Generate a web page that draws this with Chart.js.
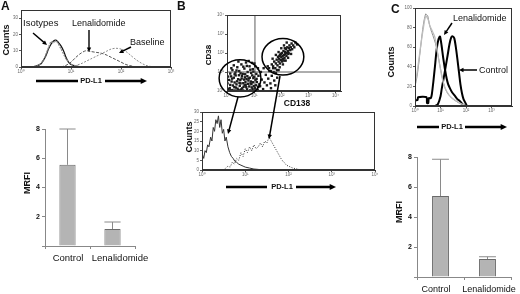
<!DOCTYPE html>
<html>
<head>
<meta charset="utf-8">
<script src="https://cdn.jsdelivr.net/npm/chart.js@4.4.1/dist/chart.umd.min.js"></script>
<style>
  body { margin: 0; background: #fff; }
  #fig { position: relative; width: 520px; height: 294px; overflow: hidden; font-family: "Liberation Sans", Arial, sans-serif; color: #111; }
  #fig canvas { position: absolute; }
  .t { position: absolute; white-space: nowrap; line-height: 1; }
  .b { font-weight: bold; }
  .v { transform: translate(-50%, -50%) rotate(-90deg); }
  .c { transform: translate(-50%, -50%); }
  .l { transform: translateY(-50%); }
</style>
</head>
<body>
<div id="fig">
  <canvas id="aHist" width="180" height="76" style="left:0;top:0"></canvas>
  <canvas id="aBar" width="180" height="150" style="left:0;top:115px"></canvas>
  <canvas id="bDot" width="150" height="105" style="left:200px;top:5px"></canvas>
  <canvas id="bHist" width="200" height="75" style="left:180px;top:105px"></canvas>
  <canvas id="cHist" width="140" height="118" style="left:380px;top:0"></canvas>
  <canvas id="cBar" width="140" height="149" style="left:380px;top:145px"></canvas>
  <canvas id="ov" width="520" height="294" style="left:0;top:0"></canvas>

  <div class="t b" style="left:1px;top:0;font-size:12px">A</div>
  <div class="t b v" style="left:5.5px;top:40px;font-size:9px">Counts</div>
  <div class="t l" style="left:23px;top:23px;font-size:9.5px">Isotypes</div>
  <div class="t l" style="left:72px;top:23px;font-size:9px">Lenalidomide</div>
  <div class="t l" style="left:130px;top:42px;font-size:9px">Baseline</div>
  <div class="t b c" style="left:91px;top:81px;font-size:7.5px">PD-L1</div>
  <div class="t b v" style="left:27px;top:183px;font-size:9px">MRFI</div>
  <div class="t c" style="left:68px;top:258px;font-size:9.5px">Control</div>
  <div class="t c" style="left:120px;top:258px;font-size:9.5px">Lenalidomide</div>

  <div class="t b" style="left:177px;top:0;font-size:12px">B</div>
  <div class="t b v" style="left:208.5px;top:55px;font-size:8px">CD38</div>
  <div class="t b c" style="left:297px;top:103px;font-size:8.5px">CD138</div>
  <div class="t b v" style="left:188.5px;top:137px;font-size:9px">Counts</div>
  <div class="t b c" style="left:282px;top:187px;font-size:7.5px">PD-L1</div>

  <div class="t b" style="left:391px;top:3px;font-size:12px">C</div>
  <div class="t b v" style="left:391px;top:62px;font-size:9px">Counts</div>
  <div class="t l" style="left:453px;top:18px;font-size:9px">Lenalidomide</div>
  <div class="t l" style="left:479px;top:70px;font-size:9px">Control</div>
  <div class="t b c" style="left:452px;top:127px;font-size:7.5px">PD-L1</div>
  <div class="t b v" style="left:399px;top:212px;font-size:9px">MRFI</div>
  <div class="t c" style="left:436px;top:289px;font-size:9px">Control</div>
  <div class="t c" style="left:489px;top:289px;font-size:9px">Lenalidomide</div>
</div>
<script>
// x values are decades of fluorescence (10^0 .. 10^4), y are counts

// panel A histogram
const aIsoBlack = [[0.2,0],[0.3,0.5],[0.4,2],[0.5,7],[0.55,11],[0.6,14],[0.65,16],[0.7,16.5],[0.75,15],[0.8,13],[0.85,10],[0.9,6],[0.95,3],[1.0,1.5],[1.1,0.5],[1.2,0]];
const aIsoGray = [[0.25,0],[0.35,1],[0.45,4],[0.5,8],[0.55,12],[0.6,15.5],[0.65,15],[0.7,16],[0.75,14],[0.8,11],[0.85,8],[0.9,5],[1.0,2],[1.1,0.7],[1.25,0]];
const aLena = [[0.8,0],[0.9,1],[1.0,3],[1.1,6],[1.2,8.5],[1.3,10],[1.4,9.5],[1.5,9],[1.6,8.5],[1.7,7.5],[1.8,6],[1.9,4.5],[2.0,3],[2.1,1.5],[2.2,0.7],[2.3,0]];
const aBase = [[1.0,0],[1.1,1],[1.2,2],[1.3,3.5],[1.4,5],[1.5,6.5],[1.6,8],[1.7,9.5],[1.8,11],[1.9,11.5],[2.0,11],[2.1,9.5],[2.2,7],[2.3,4.5],[2.4,2.5],[2.5,1],[2.6,0.3],[2.7,0]];

// panel B histogram: CD138- gate (solid) and CD138+ gate (dotted)
const bNeg = [[0,0],[0.01,8],[0.04,6],[0.07,10],[0.1,9],[0.13,13],[0.16,12],[0.2,17],[0.23,15],[0.26,22],[0.29,20],[0.32,26],[0.35,24],[0.38,28],[0.41,22],[0.44,26],[0.47,19],[0.5,21],[0.53,15],[0.56,17],[0.6,12],[0.64,9],[0.68,7],[0.72,6],[0.76,4.5],[0.8,4],[0.85,3],[0.9,2.5],[0.95,2],[1.0,1.5],[1.1,1],[1.2,0.5],[1.3,0.3],[1.4,0]];
const bPos = [[0.5,0],[0.55,1],[0.6,2],[0.65,1.5],[0.7,4],[0.75,3],[0.8,6],[0.85,5],[0.9,9],[0.95,7],[1.0,11],[1.05,9],[1.1,12],[1.15,10],[1.2,13],[1.25,11],[1.3,12],[1.35,14],[1.4,12],[1.45,15],[1.5,14],[1.55,17],[1.6,15],[1.65,13],[1.7,11],[1.75,9],[1.8,7],[1.85,5],[1.9,4],[1.95,2.5],[2.0,2],[2.05,1.5],[2.1,1],[2.2,0.5],[2.3,0]];

// panel B dot plot (CD138, CD38)
const bCells = [
  [0.05,0.1],[0.12,0.32],[0.2,0.05],[0.28,0.45],[0.33,0.18],[0.41,0.62],[0.47,0.27],[0.52,0.08],[0.6,0.41],[0.66,0.72],
  [0.71,0.2],[0.79,0.55],[0.85,0.03],[0.9,0.36],[0.97,0.68],[1.03,0.15],[1.1,0.47],[1.16,0.8],[0.08,0.58],[0.15,0.77],
  [0.22,0.29],[0.3,0.02],[0.37,0.51],[0.44,0.83],[0.5,0.4],[0.56,0.14],[0.63,0.6],[0.69,0.33],[0.75,0.78],[0.82,0.24],
  [0.88,0.5],[0.94,0.11],[1.0,0.74],[1.07,0.3],[1.13,0.06],[0.02,0.4],[0.1,0.15],[0.17,0.5],[0.25,0.7],[0.35,0.35],
  [0.43,0.05],[0.49,0.58],[0.55,0.79],[0.61,0.22],[0.68,0.47],[0.74,0.09],[0.8,0.66],[0.87,0.4],[0.93,0.82],[0.99,0.26],
  [1.05,0.58],[1.19,0.35],[0.04,0.76],[0.13,0.04],[0.19,0.65],[0.27,0.2],[0.32,0.82],[0.39,0.12],[0.46,0.43],[0.54,0.66],
  [0.59,0.02],[0.65,0.3],[0.72,0.62],[0.78,0.38],[0.84,0.7],[0.91,0.19],[0.96,0.46],[1.02,0.02],[1.09,0.64],[1.15,0.22],
  [0.07,0],[0.18,0],[0.29,0],[0.4,0],[0.51,0],[0.62,0],[0.73,0],[0.86,0],[0.98,0],[1.12,0],
  [0.12,0.92],[0.2,1.1],[0.31,0.97],[0.38,1.25],[0.45,1.05],[0.53,1.4],[0.58,0.9],[0.64,1.18],[0.7,1.5],[0.76,1.0],
  [0.83,1.3],[0.89,0.95],[0.95,1.15],[1.01,1.45],[1.08,0.9],[1.14,1.2],[0.25,1.35],[0.42,1.55],[0.6,1.28],[0.8,1.58],
  [0.97,1.02],[0.16,1.2],[0.35,1.08],[0.5,0.93],[0.67,0.88],[0.86,1.12],[1.04,1.3],[0.28,0.88],[0.73,1.32],[0.92,1.48],
  [1.22,0.25],[1.28,0.6],[1.33,0.1],[1.38,0.45],[1.43,0.85],[1.47,0.3],[1.52,0.65],[1.56,1.05],[1.6,0.4],[1.65,0.8],
  [1.7,1.2],[1.74,0.55],[1.8,0.95],[1.85,0.7],[1.25,1.0],[1.35,1.2],[1.5,1.3],[1.62,0.15],[1.9,1.1],[1.78,0.3],
  [1.55,1.2],[1.62,1.05],[1.65,1.4],[1.7,1.3],[1.74,1.55],[1.78,1.2],[1.8,1.45],[1.83,1.65],[1.86,1.35],[1.88,1.8],
  [1.9,1.55],[1.92,1.7],[1.95,1.45],[1.96,1.9],[1.98,1.62],[2.0,1.78],[2.02,2.0],[2.03,1.55],[2.05,1.85],[2.07,1.7],
  [2.08,2.1],[2.1,1.9],[2.12,1.75],[2.14,2.05],[2.15,1.95],[2.17,2.2],[2.19,1.85],[2.2,2.0],[2.22,2.3],[2.24,2.1],
  [2.26,1.95],[2.28,2.25],[2.3,2.4],[2.33,2.15],[2.35,2.3],[2.38,2.5],[2.4,2.2],[2.44,2.4],[2.48,2.3],[2.52,2.55],
  [2.58,2.45],[1.72,1.0],[1.84,1.1],[1.94,1.25],[2.06,1.4],[2.16,1.6],[2.25,1.75],[2.36,1.95],[1.68,1.7],[1.8,1.9],
  [1.9,2.05],[2.0,2.25],[2.1,2.4],[2.2,2.55],[1.98,1.95],[2.11,1.6],[2.04,1.65],[1.93,1.85],[2.13,2.25],[2.27,2.0]
];
// gates: [centre x, centre y, radius x, radius y] in decades
const bGates = [[0.48,0.67,0.77,0.98],[2.06,1.8,0.77,0.96]];
const bQuadrant = [1.03, 1.0];

// panel C histogram
const cIsoLight = [[0,22],[0.07,32],[0.14,45],[0.2,57],[0.27,70],[0.33,80],[0.38,88],[0.43,92],[0.48,90],[0.52,88],[0.58,82],[0.65,78],[0.72,74],[0.78,70],[0.85,60],[0.91,50],[0.98,40],[1.05,30],[1.14,21],[1.24,15],[1.37,10],[1.5,7],[1.63,5],[1.76,3],[1.9,1.5],[2.03,0]];
const cIsoDark = [[0,20],[0.08,30],[0.15,44],[0.22,60],[0.3,78],[0.36,88],[0.42,94],[0.46,93],[0.5,92],[0.55,85],[0.62,78],[0.7,72],[0.8,64],[0.9,52],[1.0,38],[1.08,28],[1.18,18],[1.3,12],[1.45,8],[1.6,5],[1.8,2],[2.0,0]];
const cLena = [[0,6],[0.1,6],[0.12,9],[0.45,9],[0.47,3],[0.52,3],[0.54,8],[0.62,8],[0.66,12],[0.72,25],[0.78,40],[0.85,58],[0.92,68],[0.98,71],[1.04,62],[1.1,50],[1.17,38],[1.24,28],[1.3,22],[1.37,18],[1.45,14],[1.57,10],[1.66,7],[1.76,5],[1.85,2],[1.92,0.5],[2.0,0]];
const cCtrl = [[0.8,0],[0.9,2],[1.0,10],[1.05,18],[1.12,28],[1.2,40],[1.28,52],[1.35,63],[1.42,70],[1.48,71],[1.54,69],[1.6,60],[1.66,48],[1.72,35],[1.78,22],[1.84,13],[1.9,7],[1.96,4],[2.03,0]];

// MRFI bar charts
const barLabels = ['Control', 'Lenalidomide'];
const aMrfi = [5.55, 1.16];
const aMrfiTop = [8.0, 1.64];
const cMrfi = [5.4, 1.2];
const cMrfiTop = [7.85, 1.35];

const decadeTicks = ['10\u2070', '10\u00b9', '10\u00b2', '10\u00b3', '10\u2074'];
const FAM = '"Liberation Sans", Arial, sans-serif';
const tiny = { size: 4.5, family: FAM };

const pts = arr => arr.map(p => ({ x: p[0], y: p[1] }));

const framePlugin = {
  id: 'frame',
  afterDraw(chart) {
    const a = chart.chartArea, ctx = chart.ctx;
    ctx.save();
    ctx.strokeStyle = '#333';
    ctx.lineWidth = 1;
    ctx.strokeRect(Math.round(a.left) + 0.5, Math.round(a.top) + 0.5,
      Math.round(a.right - a.left) - 1, Math.round(a.bottom - a.top) - 1);
    ctx.restore();
  }
};

const gatePlugin = {
  id: 'gates',
  afterDraw(chart) {
    const ctx = chart.ctx, x = chart.scales.x, y = chart.scales.y, a = chart.chartArea;
    ctx.save();
    ctx.strokeStyle = '#333';
    ctx.lineWidth = 0.8;
    ctx.beginPath();
    const qx = x.getPixelForValue(bQuadrant[0]), qy = y.getPixelForValue(bQuadrant[1]);
    ctx.moveTo(qx, a.top); ctx.lineTo(qx, a.bottom);
    ctx.moveTo(a.left, qy); ctx.lineTo(a.right, qy);
    ctx.stroke();
    ctx.strokeStyle = '#000';
    ctx.lineWidth = 1.5;
    bGates.forEach(g => {
      const cx = x.getPixelForValue(g[0]), cy = y.getPixelForValue(g[1]);
      const rx = x.getPixelForValue(g[0] + g[2]) - cx;
      const ry = cy - y.getPixelForValue(g[1] + g[3]);
      ctx.beginPath();
      ctx.ellipse(cx, cy, rx, ry, 0, 0, Math.PI * 2);
      ctx.stroke();
    });
    ctx.restore();
  }
};

const errorPlugin = {
  id: 'errbars',
  afterDatasetsDraw(chart) {
    const ctx = chart.ctx, y = chart.scales.y;
    chart.data.datasets.forEach((ds, i) => {
      chart.getDatasetMeta(i).data.forEach((bar, j) => {
        const top = y.getPixelForValue(ds.errTop[j]);
        const half = bar.width / 2;
        ctx.save();
        ctx.strokeStyle = '#8a8a8a';
        ctx.lineWidth = 1;
        ctx.beginPath();
        ctx.moveTo(bar.x, bar.y); ctx.lineTo(bar.x, top);
        ctx.moveTo(bar.x - half, top); ctx.lineTo(bar.x + half, top);
        ctx.stroke();
        ctx.restore();
      });
    });
  }
};

function decadeAxis(max, h) {
  return {
    type: 'linear', min: 0, max: max,
    afterFit: s => { s.height = h; },
    afterBuildTicks: s => { s.ticks = [0, 1, 2, 3, 4].filter(v => v <= max).map(v => ({ value: v })); },
    ticks: { callback: v => decadeTicks[v], font: tiny, color: '#666', padding: 0, maxRotation: 0, autoSkip: false },
    grid: { drawOnChartArea: false, tickLength: 2, color: '#555' },
    border: { color: '#333' }
  };
}

function countAxis(max, step, w) {
  return {
    min: 0, max: max,
    afterFit: s => { s.width = w; },
    ticks: { stepSize: step, font: tiny, color: '#666', padding: 1 },
    grid: { drawOnChartArea: false, tickLength: 2, color: '#555' },
    border: { color: '#333' }
  };
}

function line(data, color, width, dash, tension) {
  return { data: pts(data), borderColor: color, borderWidth: width, borderDash: dash || [], pointRadius: 0, tension: tension || 0 };
}

function histChart(id, sets, pad, xMax, xH, yMax, yStep, yW) {
  return new Chart(document.getElementById(id), {
    type: 'line',
    data: { datasets: sets },
    plugins: [framePlugin],
    options: {
      responsive: false, animation: false,
      layout: { padding: pad },
      plugins: { legend: { display: false }, tooltip: { enabled: false } },
      scales: { x: decadeAxis(xMax, xH), y: countAxis(yMax, yStep, yW) }
    }
  });
}

// category names sit a little off-centre in the figure, so they are placed as page text
function barChart(id, vals, tops, pad, xH, yW) {
  return new Chart(document.getElementById(id), {
    type: 'bar',
    data: {
      labels: barLabels,
      datasets: [{ data: vals, errTop: tops, backgroundColor: '#b4b4b4', borderColor: '#6a6a6a', borderWidth: 1,
        barPercentage: 0.36, categoryPercentage: 1 }]
    },
    plugins: [errorPlugin],
    options: {
      responsive: false, animation: false,
      layout: { padding: pad },
      plugins: { legend: { display: false }, tooltip: { enabled: false } },
      scales: {
        x: {
          afterFit: s => { s.height = xH; },
          ticks: { display: false },
          grid: { offset: true, drawOnChartArea: false, tickLength: 3, color: '#888' },
          border: { color: '#888' }
        },
        y: {
          min: 0, max: 8,
          afterFit: s => { s.width = yW; },
          ticks: { stepSize: 2, callback: v => (v === 0 ? '' : v), font: { size: 7, weight: 'bold', family: FAM }, color: '#111', padding: 2 },
          grid: { drawOnChartArea: false, tickLength: 3, color: '#888' },
          border: { color: '#888' }
        }
      }
    }
  });
}

histChart('aHist', [
  line(aBase, '#8c8c8c', 1, [2, 1.5], 0.3),
  line(aLena, '#555', 1, [3, 1.5], 0.3),
  line(aIsoGray, '#888', 1.2, [2, 1], 0.3),
  line(aIsoBlack, '#111', 1.2, [], 0.3)
], { left: 0, top: 10, right: 9, bottom: 0 }, 3, 9, 35, 5, 21);

barChart('aBar', aMrfi, aMrfiTop, { left: 0, top: 14, right: 45, bottom: 0 }, 19, 45);

new Chart(document.getElementById('bDot'), {
  type: 'scatter',
  data: { datasets: [{ data: pts(bCells), pointStyle: 'rect', pointRadius: 1.7, backgroundColor: '#1a1a1a', borderWidth: 0 }] },
  plugins: [framePlugin, gatePlugin],
  options: {
    responsive: false, animation: false,
    layout: { padding: { left: 0, top: 10, right: 9, bottom: 0 } },
    plugins: { legend: { display: false }, tooltip: { enabled: false } },
    scales: {
      x: decadeAxis(4.2, 19),
      y: {
        type: 'linear', min: 0, max: 4,
        afterFit: s => { s.width = 27; },
        afterBuildTicks: s => { s.ticks = [0, 1, 2, 3, 4].map(v => ({ value: v })); },
        ticks: { callback: v => decadeTicks[v], font: tiny, color: '#666', padding: 1 },
        grid: { drawOnChartArea: false, tickLength: 2, color: '#555' },
        border: { color: '#333' }
      }
    }
  }
});

histChart('bHist', [
  line(bPos, '#333', 1, [1, 1.5], 0),
  line(bNeg, '#333', 1, [], 0)
], { left: 0, top: 7, right: 5, bottom: 0 }, 4, 10, 30, 5, 22);

histChart('cHist', [
  line(cIsoLight, '#bdbdbd', 1.3, [], 0.3),
  line(cIsoDark, '#8f8f8f', 1, [], 0.3),
  line(cLena, '#000', 2, [], 0.2),
  line(cCtrl, '#000', 2, [], 0.3)
], { left: 0, top: 8, right: 8, bottom: 0 }, 3.8, 12, 100, 20, 35);

barChart('cBar', cMrfi, cMrfiTop, { left: 0, top: 12, right: 9, bottom: 0 }, 17, 37);

// annotation arrows
const ov = document.getElementById('ov').getContext('2d');
function arrow(x1, y1, x2, y2, w, head) {
  const ang = Math.atan2(y2 - y1, x2 - x1);
  ov.save();
  ov.strokeStyle = '#000';
  ov.fillStyle = '#000';
  ov.lineWidth = w;
  ov.beginPath();
  ov.moveTo(x1, y1);
  ov.lineTo(x2 - Math.cos(ang) * head * 0.8, y2 - Math.sin(ang) * head * 0.8);
  ov.stroke();
  ov.beginPath();
  ov.moveTo(x2, y2);
  ov.lineTo(x2 - head * Math.cos(ang - 0.45), y2 - head * Math.sin(ang - 0.45));
  ov.lineTo(x2 - head * Math.cos(ang + 0.45), y2 - head * Math.sin(ang + 0.45));
  ov.closePath();
  ov.fill();
  ov.restore();
}
function bar(x1, x2, y, w) {
  ov.save();
  ov.lineWidth = w;
  ov.beginPath();
  ov.moveTo(x1, y); ov.lineTo(x2, y);
  ov.stroke();
  ov.restore();
}

arrow(33, 33, 47, 45, 1.4, 5);
arrow(89, 30, 89, 52, 1.4, 5);
arrow(131, 47, 119, 53, 1.4, 5);
bar(36, 78, 81, 2.5);
arrow(105, 81, 147, 81, 2.5, 7);

arrow(238, 97, 228, 134, 1.5, 5);
arrow(280, 76, 269, 139, 1.5, 5);
bar(226, 267, 187, 2.5);
arrow(296, 187, 336, 187, 2.5, 7);

arrow(452, 23, 444, 35, 1.5, 5);
arrow(477, 70, 459, 70, 1.5, 5);
bar(417, 439, 127, 2.5);
arrow(465, 127, 507, 127, 2.5, 7);
</script>
</body>
</html>
